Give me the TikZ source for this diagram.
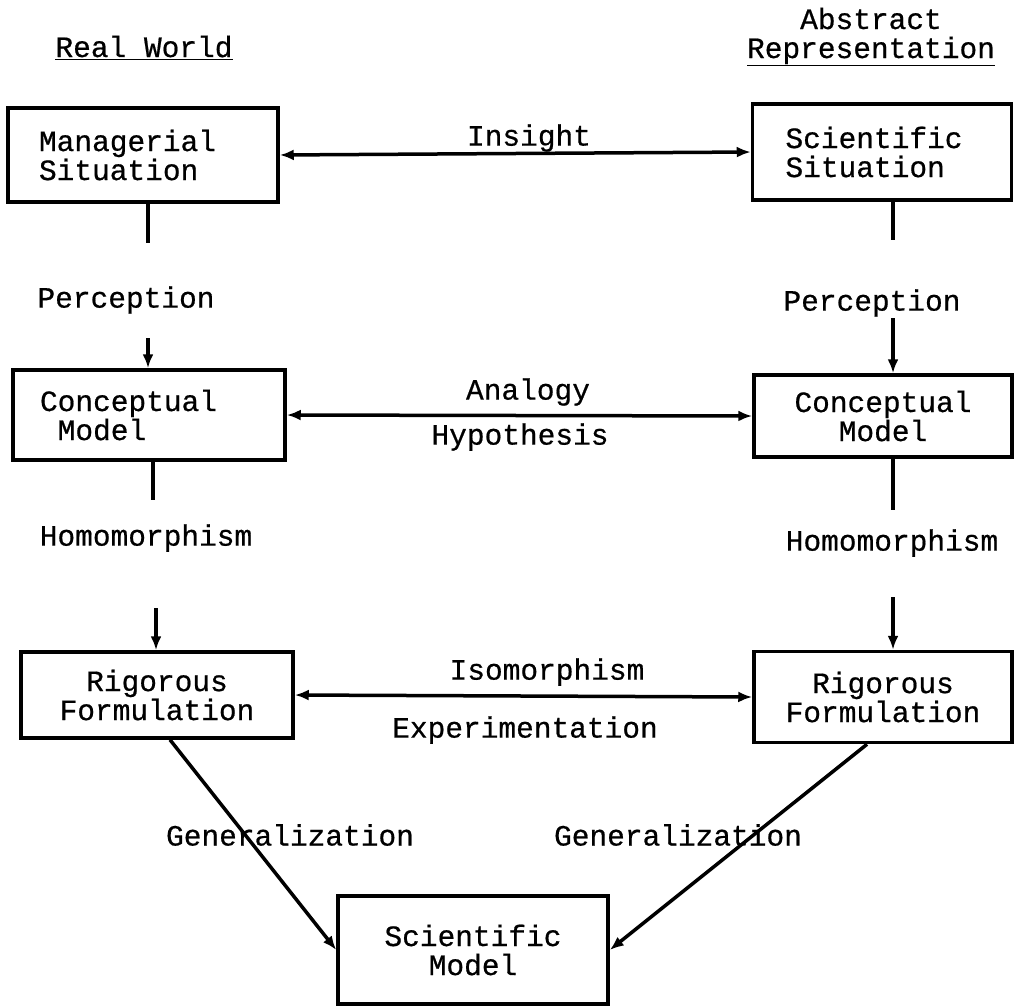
\documentclass[tikz,border=0pt]{standalone}
\usepackage{fontspec}
\setmainfont{Liberation Mono}[FakeBold=0.6]
\usetikzlibrary{arrows.meta}

\tikzset{
    box/.style={draw, line width=3.5pt, align=center, inner sep=0pt},
    leftbox/.style={box, align=left, inner xsep=#1},
    link/.style={line width=3.5pt},
}

\begin{document}
\begin{tikzpicture}[x=1pt, y=-1pt, >={Latex[length=14pt,width=11pt]},
    font=\fontsize{29.5}{29}\selectfont]
    \useasboundingbox (0,0) rectangle (1014,1007);

    % column heads
    \node[anchor=base] (realw) at (144,57) {\underline{Real World}};
    \node[anchor=base] (abstr) at (871,29) {Abstract};
    \node[anchor=base] (repr)  at (871,58) {\underline{Representation}};

    % boxes
    \node[leftbox=31pt, text width=208pt, minimum height=94pt] (mgrL) at (143,155) {Managerial\\Situation};
    \node[leftbox=33pt, text width=193pt, minimum height=96pt] (sciR) at (882,152) {Scientific\\Situation};
    \node[leftbox=27pt, text width=218pt, minimum height=90pt] (cmL) at (149,415) {Conceptual\\\hspace*{0.6em}Model};
    \node[box, minimum width=258pt, minimum height=82pt] (cmR) at (883,416) {Conceptual\\Model};
    \node[box, minimum width=272pt, minimum height=86pt] (rfL) at (157,695) {Rigorous\\Formulation};
    \node[box, minimum width=258pt, minimum height=91pt] (rfR) at (883,697) {Rigorous\\Formulation};
    \node[box, minimum width=270pt, minimum height=108pt] (smod) at (473,950) {Scientific\\Model};

    % labels
    \node (insight) at (529,138) {Insight};
    \node (percL) at (126,300) {Perception};
    \node (percR) at (872,303) {Perception};
    \node (analogy) at (528,392) {Analogy};
    \node (hypo) at (520,437) {Hypothesis};
    \node (homL) at (146,538) {Homomorphism};
    \node (homR) at (892,543) {Homomorphism};
    \node (iso) at (547,672) {Isomorphism};
    \node (expe) at (525,730) {Experimentation};
    \node (genL) at (290,835) {Generalization};
    \node (genR) at (678,835) {Generalization};

    % stub ends above and below the labels
    \coordinate (mgrstub) at (148,243);
    \coordinate (sciRstub) at (893,240);
    \coordinate (cmLin) at (148,338);
    \coordinate (cmRin) at (893,318);
    \coordinate (cmLstub) at (153,500);
    \coordinate (cmRstub) at (893,510);
    \coordinate (rfLin) at (156,608);
    \coordinate (rfRin) at (893,597);

    % vertical links
    \draw[link] (mgrstub |- mgrL.south) -- (mgrstub);
    \draw[link] (sciRstub |- sciR.south) -- (sciRstub);
    \draw[link, ->] (cmLin) -- (cmLin |- cmL.north);
    \draw[link, ->] (cmRin) -- (cmRin |- cmR.north);
    \draw[link] (cmLstub |- cmL.south) -- (cmLstub);
    \draw[link] (cmRstub |- cmR.south) -- (cmRstub);
    \draw[link, ->] (rfLin) -- (rfLin |- rfL.north);
    \draw[link, ->] (rfRin) -- (rfRin |- rfR.north);

    % horizontal links
    \draw[link, <->] (mgrL.east) -- (sciR.west);
    \draw[link, <->] (cmL.east) -- (cmR.west);
    \draw[link, <->] (rfL.east) -- (rfR.west);

    % generalization
    \draw[link, ->] ([xshift=13pt]rfL.south) -- (smod.west);
    \draw[link, ->] ([xshift=-16pt]rfR.south) -- (smod.east);
\end{tikzpicture}
\end{document}
